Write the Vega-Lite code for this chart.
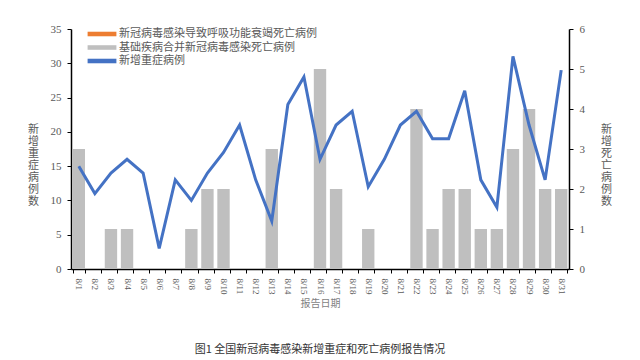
{
  "$schema": "https://vega.github.io/schema/vega-lite/v6.json",
  "autosize": {"type": "none"},
  "width": 498,
  "height": 240,
  "padding": {"left": 71, "top": 29, "right": 71, "bottom": 91},
  "background": "white",
  "config": {"view": {"stroke": null}, "font": "Noto Sans CJK SC"},
  "title": {"text": "图1  全国新冠病毒感染新增重症和死亡病例报告情况", "orient": "bottom", "anchor": "middle", "fontSize": 11, "fontWeight": "normal", "color": "#333333", "offset": 36, "font": "Noto Sans CJK SC"},
  "data": {"values": [
    {"date": "8/1", "severe": 15, "deaths": 3},
    {"date": "8/2", "severe": 11, "deaths": 0},
    {"date": "8/3", "severe": 14, "deaths": 1},
    {"date": "8/4", "severe": 16, "deaths": 1},
    {"date": "8/5", "severe": 14, "deaths": 0},
    {"date": "8/6", "severe": 3, "deaths": 0},
    {"date": "8/7", "severe": 13, "deaths": 0},
    {"date": "8/8", "severe": 10, "deaths": 1},
    {"date": "8/9", "severe": 14, "deaths": 2},
    {"date": "8/10", "severe": 17, "deaths": 2},
    {"date": "8/11", "severe": 21, "deaths": 0},
    {"date": "8/12", "severe": 13, "deaths": 0},
    {"date": "8/13", "severe": 7, "deaths": 3},
    {"date": "8/14", "severe": 24, "deaths": 0},
    {"date": "8/15", "severe": 28, "deaths": 0},
    {"date": "8/16", "severe": 16, "deaths": 5},
    {"date": "8/17", "severe": 21, "deaths": 2},
    {"date": "8/18", "severe": 23, "deaths": 0},
    {"date": "8/19", "severe": 12, "deaths": 1},
    {"date": "8/20", "severe": 16, "deaths": 0},
    {"date": "8/21", "severe": 21, "deaths": 0},
    {"date": "8/22", "severe": 23, "deaths": 4},
    {"date": "8/23", "severe": 19, "deaths": 1},
    {"date": "8/24", "severe": 19, "deaths": 2},
    {"date": "8/25", "severe": 26, "deaths": 2},
    {"date": "8/26", "severe": 13, "deaths": 1},
    {"date": "8/27", "severe": 9, "deaths": 1},
    {"date": "8/28", "severe": 31, "deaths": 3},
    {"date": "8/29", "severe": 21, "deaths": 4},
    {"date": "8/30", "severe": 13, "deaths": 2},
    {"date": "8/31", "severe": 29, "deaths": 2}
  ]},
  "encoding": {
    "x": {"field": "date", "type": "ordinal", "sort": null,
      "scale": {"paddingInner": 0.23, "paddingOuter": 0.1},
      "axis": {"title": "报告日期", "labelAngle": 90, "labelFont": "Liberation Serif", "labelFontSize": 9, "labelColor": "#595959", "titleColor": "#7f7f7f", "titleFontSize": 10, "titleFontWeight": "normal", "domainColor": "black", "domainWidth": 1.5, "tickColor": "black", "tickSize": 4, "tickBand": "extent", "labelPadding": 5, "titlePadding": 4}}
  },
  "layer": [
    {
      "mark": {"type": "bar"},
      "encoding": {
        "y": {"field": "deaths", "type": "quantitative",
          "scale": {"domain": [0, 6]},
          "axis": {"orient": "right", "values": [0,1,2,3,4,5,6], "grid": false, "title": ["新","增","死","亡","病","例","数"], "titleAngle": 0, "titleX": 37, "titleY": 94, "titleAlign": "center", "titleBaseline": "top", "titleFontSize": 11, "titleFontWeight": "normal", "titleColor": "#595959", "titleLineHeight": 12, "labelFont": "Liberation Serif", "labelFontSize": 11, "labelColor": "#595959", "domainColor": "black", "domainWidth": 1.5, "tickColor": "black", "tickSize": 4, "labelPadding": 6}},
        "color": {"datum": "基础疾病合并新冠病毒感染死亡病例", "type": "nominal",
          "scale": {"domain": ["新冠病毒感染导致呼吸功能衰竭死亡病例", "基础疾病合并新冠病毒感染死亡病例", "新增重症病例"], "range": ["#ed7d31", "#bfbfbf", "#4472c4"]},
          "legend": {"title": null, "orient": "none", "legendX": 25, "legendY": -1, "padding": 0, "symbolType": "M-2.4,-0.38H2.4V0.38H-2.4Z", "symbolSize": 144, "symbolStrokeWidth": 0, "labelFontSize": 11, "labelColor": "#595959", "labelLimit": 400, "rowPadding": 2.5, "labelOffset": 11, "symbolOffset": 0}}
      }
    },
    {
      "mark": {"type": "line", "strokeWidth": 3},
      "encoding": {
        "y": {"field": "severe", "type": "quantitative",
          "scale": {"domain": [0, 35]},
          "axis": {"orient": "left", "values": [0,5,10,15,20,25,30,35], "grid": false, "title": ["新","增","重","症","病","例","数"], "titleAngle": 0, "titleX": -38, "titleY": 94, "titleAlign": "center", "titleBaseline": "top", "titleFontSize": 11, "titleFontWeight": "normal", "titleColor": "#595959", "titleLineHeight": 12, "labelFont": "Liberation Serif", "labelFontSize": 11, "labelColor": "#595959", "domainColor": "black", "domainWidth": 1.5, "tickColor": "black", "tickSize": 4, "labelPadding": 6}},
        "color": {"datum": "新增重症病例", "type": "nominal"}
      }
    }
  ],
  "resolve": {"scale": {"y": "independent", "color": "shared"}}
}
